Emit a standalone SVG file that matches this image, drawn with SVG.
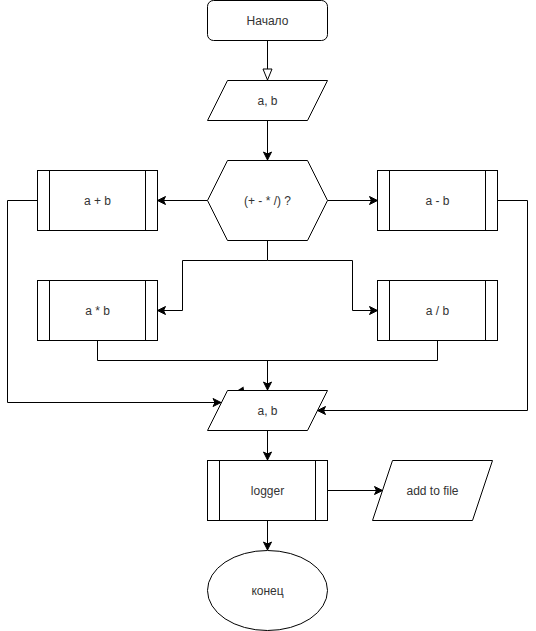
<svg xmlns="http://www.w3.org/2000/svg" width="536" height="631" viewBox="0 0 536 631">
<defs>
<style>
.s{fill:#fff;stroke:#000;stroke-width:1}
.b{fill:none;stroke:#000;stroke-width:1}
.c{fill:none;stroke:#000;stroke-width:1}
.t{font-family:"Liberation Sans",Arial,sans-serif;font-size:12px;fill:#333;text-anchor:middle;dominant-baseline:central}
</style>
<marker id="arr" markerUnits="userSpaceOnUse" markerWidth="10" markerHeight="10" viewBox="0 0 10 10" refX="9" refY="5" orient="auto">
<path d="M1,1 L9,5 L1,9 L3,5 Z" fill="#000" stroke="#000" stroke-width="1"/>
</marker>
<marker id="open" markerUnits="userSpaceOnUse" markerWidth="13" markerHeight="11" viewBox="0 0 13 11" refX="12" refY="5.5" orient="auto">
<path d="M1,1 L12,5.5 L1,10 Z" fill="#fff" stroke="#000" stroke-width="1"/>
</marker>
</defs>
<rect width="536" height="631" fill="#fff"/>

<g id="connectors">
<path class="c" d="M267.5,40.5 V80" marker-end="url(#open)"/>
<path class="c" d="M267.5,120.5 V160" marker-end="url(#arr)"/>
<path class="c" d="M207.5,200.5 H157.5" marker-end="url(#arr)"/>
<path class="c" d="M327.5,200.5 H377.5" marker-end="url(#arr)"/>
<path class="c" d="M267.5,240.5 V260.5 H182.5 V310.5 H157.5" marker-end="url(#arr)"/>
<path class="c" d="M267.5,260.5 H352.5 V310.5 H377.5" marker-end="url(#arr)"/>
<path class="c" d="M37.5,200.5 H7.5 V402.5 H221" marker-end="url(#arr)"/>
<path class="c" d="M497.5,200.5 H527.5 V410.5 H317.5" marker-end="url(#arr)"/>
<path class="c" d="M97.5,340.5 V360.5 H437.5 V340.5"/>
<path class="c" d="M267.5,360.5 V390" marker-end="url(#arr)"/>
<path class="c" d="M267.5,430.5 V460" marker-end="url(#arr)"/>
<path class="c" d="M327.5,490.5 H382.5" marker-end="url(#arr)"/>
<path class="c" d="M267.5,520.5 V550" marker-end="url(#arr)"/>
<path d="M238,390 L243.5,386.5 L244,390 Z" fill="#000"/>
</g>

<g id="start">
<rect class="s" x="207.5" y="0.5" width="120" height="40" rx="6" ry="6"/>
<text class="t" x="267.5" y="20.5">Начало</text>
</g>

<g id="input1">
<path class="s" d="M227.5,80.5 H327.5 L307.5,120.5 H207.5 Z"/>
<text class="t" x="267.5" y="100.5">a, b</text>
</g>

<g id="decision">
<path class="s" d="M207.5,200.5 L227.5,160.5 H307.5 L327.5,200.5 L307.5,240.5 H227.5 Z"/>
<text class="t" x="267.5" y="200.5">(+ - * /) ?</text>
</g>

<g id="add">
<rect class="s" x="37.5" y="170.5" width="120" height="60"/>
<path class="b" d="M49.5,170.5 V230.5 M145.5,170.5 V230.5"/>
<text class="t" x="97.5" y="200.5">a + b</text>
</g>

<g id="sub">
<rect class="s" x="377.5" y="170.5" width="120" height="60"/>
<path class="b" d="M389.5,170.5 V230.5 M485.5,170.5 V230.5"/>
<text class="t" x="437.5" y="200.5">a - b</text>
</g>

<g id="mul">
<rect class="s" x="37.5" y="280.5" width="120" height="60"/>
<path class="b" d="M49.5,280.5 V340.5 M145.5,280.5 V340.5"/>
<text class="t" x="97.5" y="310.5">a * b</text>
</g>

<g id="div">
<rect class="s" x="377.5" y="280.5" width="120" height="60"/>
<path class="b" d="M389.5,280.5 V340.5 M485.5,280.5 V340.5"/>
<text class="t" x="437.5" y="310.5">a / b</text>
</g>

<g id="output1">
<path class="s" d="M227.5,390.5 H327.5 L307.5,430.5 H207.5 Z"/>
<text class="t" x="267.5" y="410.5">a, b</text>
</g>

<g id="logger">
<rect class="s" x="207.5" y="460.5" width="120" height="60"/>
<path class="b" d="M219.5,460.5 V520.5 M315.5,460.5 V520.5"/>
<text class="t" x="267.5" y="490.5">logger</text>
</g>

<g id="file">
<path class="s" d="M392.5,460.5 H492.5 L472.5,520.5 H372.5 Z"/>
<text class="t" x="432.5" y="490.5">add to file</text>
</g>

<g id="end">
<ellipse class="s" cx="267.5" cy="590.5" rx="60" ry="40"/>
<text class="t" x="267.5" y="590.5">конец</text>
</g>
</svg>
